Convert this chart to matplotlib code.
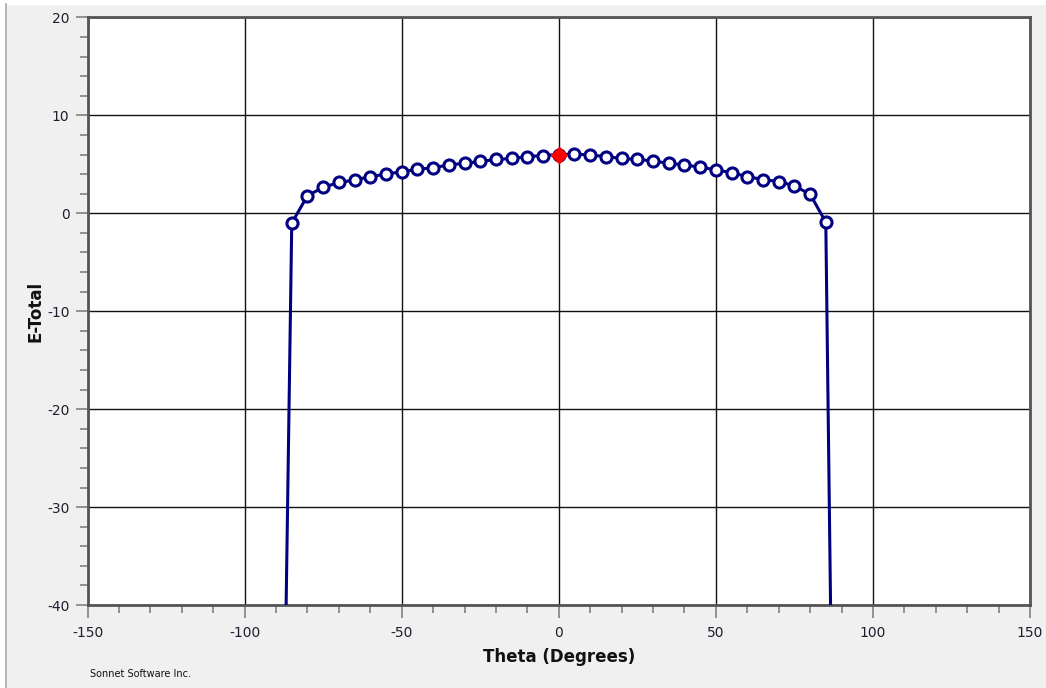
import matplotlib
matplotlib.use("Agg")
import matplotlib.pyplot as plt
import matplotlib.ticker as mticker
from matplotlib.patches import Rectangle
from matplotlib.lines import Line2D

plt.rcParams['axes.unicode_minus'] = False

# valeurs
theta = [-90, -85, -80, -75, -70, -65, -60, -55, -50, -45, -40, -35, -30, -25, -20, -15, -10, -5, 0,
         5, 10, 15, 20, 25, 30, 35, 40, 45, 50, 55, 60, 65, 70, 75, 80, 85, 90]
e_total = [-110, -1.0, 1.8, 2.65, 3.15, 3.4, 3.75, 4.0, 4.25, 4.5, 4.65, 4.95, 5.1, 5.3, 5.5, 5.6, 5.8, 5.9, 6.0,
           6.05, 5.95, 5.8, 5.6, 5.5, 5.35, 5.1, 4.95, 4.7, 4.45, 4.15, 3.75, 3.45, 3.25, 2.8, 1.95, -0.9, -130]
marker_theta = theta[1:-1]
marker_vals = e_total[1:-1]
highlight_theta = [0]
highlight_vals = [6.0]

fig = plt.figure(figsize=(10.46, 6.88), dpi=100)
fig.patch.set_facecolor('#f0f0f0')
# bandeau blanc en haut et a gauche, comme la fenetre d'origine
fig.patches.append(Rectangle((0, 0.994), 1, 0.006, transform=fig.transFigure, color='white', zorder=0))
fig.patches.append(Rectangle((0, 0), 0.0055, 1, transform=fig.transFigure, color='white', zorder=0))
fig.lines.append(Line2D([0.006, 0.006], [0, 0.994], transform=fig.transFigure, color='#a8a8a8', lw=1.2))

ax = fig.add_axes([0.0837, 0.1206, 0.901, 0.854])
ax.set_facecolor('white')

ax.plot(theta, e_total, color='#000080', lw=2.2, zorder=3)
ax.plot(marker_theta, marker_vals, ls='none', marker='o', markersize=8,
        markerfacecolor='white', markeredgecolor='#000080', markeredgewidth=2.2, zorder=4)
ax.plot(highlight_theta, highlight_vals, ls='none', marker='D', markersize=8,
        markerfacecolor='red', markeredgecolor='red', zorder=5)

ax.set_xlim(-150, 150)
ax.set_ylim(-40, 20)
ax.xaxis.set_major_locator(mticker.MultipleLocator(50))
ax.xaxis.set_minor_locator(mticker.MultipleLocator(10))
ax.yaxis.set_major_locator(mticker.MultipleLocator(10))
ax.yaxis.set_minor_locator(mticker.MultipleLocator(2))

ax.grid(True, which='major', color='#111111', lw=1.0, zorder=1)
ax.set_axisbelow(True)
for s in ax.spines.values():
    s.set_color('#555555')
    s.set_linewidth(2)

ax.tick_params(which='major', length=9, width=1.3, color='#8a8a8a', labelsize=10,
               labelcolor='#1e1e2e', pad=4)
ax.tick_params(which='minor', length=6, width=1.3, color='#8a8a8a')
ax.tick_params(axis='x', which='major', pad=6)

ax.set_xlabel('Theta (Degrees)', fontsize=12, fontweight='bold', color='#111111', labelpad=6)
ax.set_ylabel('E-Total', fontsize=12, fontweight='bold', color='#111111')
ax.yaxis.set_label_coords(-0.046, 0.5)

fig.text(0.086, 0.016, 'Sonnet Software Inc.', fontsize=7, color='#111111')

fig.savefig('out.png', dpi=100, facecolor=fig.get_facecolor())
